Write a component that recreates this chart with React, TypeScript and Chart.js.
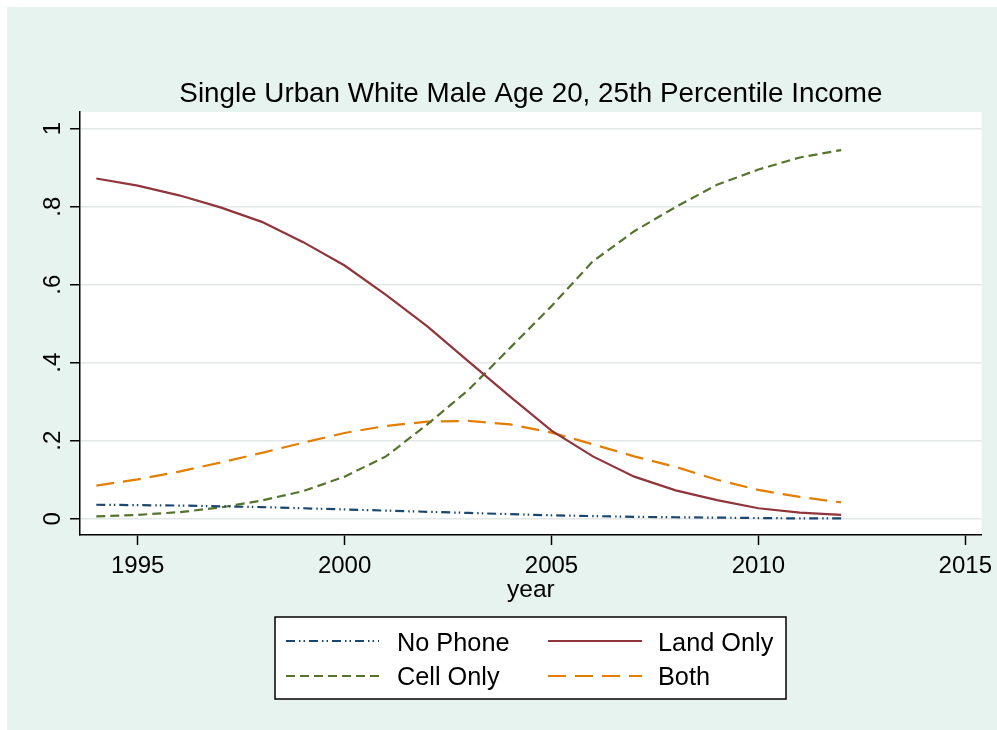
import { useEffect, useRef } from "react";
import { Chart, registerables } from "chart.js";

Chart.register(...registerables);

// ---- data ----
const years = [1994, 1995, 1996, 1997, 1998, 1999, 2000, 2001, 2002, 2003, 2004, 2005, 2006, 2007, 2008, 2009, 2010, 2011, 2012];
const noPhone = [0.036, 0.035, 0.034, 0.032, 0.030, 0.027, 0.024, 0.021, 0.018, 0.015, 0.012, 0.009, 0.007, 0.005, 0.004, 0.003, 0.002, 0.001, 0.001];
const landOnly = [0.872, 0.854, 0.829, 0.798, 0.761, 0.709, 0.649, 0.574, 0.493, 0.403, 0.313, 0.226, 0.160, 0.108, 0.073, 0.048, 0.027, 0.016, 0.010];
const cellOnly = [0.006, 0.010, 0.017, 0.029, 0.047, 0.071, 0.108, 0.160, 0.242, 0.331, 0.438, 0.545, 0.660, 0.737, 0.799, 0.856, 0.895, 0.926, 0.945];
const both = [0.085, 0.101, 0.121, 0.144, 0.169, 0.195, 0.220, 0.238, 0.249, 0.251, 0.242, 0.221, 0.191, 0.160, 0.133, 0.100, 0.074, 0.056, 0.042];

const seriesNames = ["No Phone", "Land Only", "Cell Only", "Both"];
const yTickValues = [0, 0.2, 0.4, 0.6, 0.8, 1];
const yTickLabels = ["0", ".2", ".4", ".6", ".8", "1"];
const xTickValues = [1995, 2000, 2005, 2010, 2015];
const xTickLabels = ["1995", "2000", "2005", "2010", "2015"];
const titleText = "Single Urban White Male Age 20, 25th Percentile Income";
const xAxisTitle = "year";

// ---- styling ----
const W = 990;
const H = 723;
const FONT = '"Liberation Sans", Arial, Helvetica, sans-serif';
const REGION_BG = "#e6f3ef";
const GRID = "#e4e7e7";
const NAVY = "#1a476f";
const MAROON = "#90353b";
const GREEN = "#55752f";
const ORANGE = "#e37e00";

const seriesStyles = [
  { color: NAVY, dash: [9, 4, 1.5, 3, 1.5, 4] },
  { color: MAROON, dash: [] as number[] },
  { color: GREEN, dash: [9, 5] },
  { color: ORANGE, dash: [18, 9] },
];
const seriesValues = [noPhone, landOnly, cellOnly, both];

const toPoints = (vals: number[]) => years.map((yr, i) => ({ x: yr, y: vals[i] }));

const backgroundPlugin = {
  id: "regionBackground",
  beforeDraw(chart: any) {
    const { ctx, chartArea } = chart;
    ctx.save();
    ctx.fillStyle = REGION_BG;
    ctx.fillRect(0, 0, chart.width, chart.height);
    ctx.fillStyle = "#ffffff";
    ctx.fillRect(chartArea.left, chartArea.top, chartArea.right - chartArea.left, chartArea.bottom - chartArea.top);
    ctx.restore();
  },
};

const annotationsPlugin = {
  id: "stataText",
  afterDraw(chart: any) {
    const { ctx, chartArea, scales } = chart;
    const cx = (chartArea.left + chartArea.right) / 2;
    ctx.save();
    ctx.fillStyle = "#000";

    // title
    ctx.font = `27.8px ${FONT}`;
    ctx.textAlign = "center";
    ctx.textBaseline = "alphabetic";
    ctx.fillText(titleText, cx, 95);

    // x tick labels
    ctx.font = `24px ${FONT}`;
    xTickValues.forEach((v, i) => {
      ctx.fillText(xTickLabels[i], scales.x.getPixelForValue(v), 566);
    });

    // x axis title
    ctx.font = `24.5px ${FONT}`;
    ctx.fillText(xAxisTitle, cx, 590);

    // y tick labels, rotated to read bottom-to-top
    ctx.font = `24px ${FONT}`;
    yTickValues.forEach((v, i) => {
      const py = scales.y.getPixelForValue(v);
      ctx.save();
      ctx.translate(53, py);
      ctx.rotate(-Math.PI / 2);
      ctx.textAlign = "center";
      ctx.textBaseline = "alphabetic";
      ctx.fillText(yTickLabels[i], 0, 0);
      ctx.restore();
    });

    // legend box
    const bx = 268, by = 610, bw = 511, bh = 82;
    ctx.fillStyle = "#ffffff";
    ctx.fillRect(bx, by, bw, bh);
    ctx.strokeStyle = "#000";
    ctx.lineWidth = 1.5;
    ctx.strokeRect(bx, by, bw, bh);

    const cols = [
      { lx0: 279, lx1: 372, tx: 390 },
      { lx0: 541, lx1: 635, tx: 651 },
    ];
    const rows = [
      { ly: 634, ty: 644 },
      { ly: 669, ty: 678 },
    ];
    ctx.font = `25.3px ${FONT}`;
    ctx.textAlign = "left";
    seriesNames.forEach((name, i) => {
      const col = cols[i % 2];
      const row = rows[Math.floor(i / 2)];
      const st = seriesStyles[i];
      ctx.save();
      ctx.strokeStyle = st.color;
      ctx.lineWidth = 2.2;
      ctx.setLineDash(st.dash);
      ctx.beginPath();
      ctx.moveTo(col.lx0, row.ly);
      ctx.lineTo(col.lx1, row.ly);
      ctx.stroke();
      ctx.restore();
      ctx.fillStyle = "#000";
      ctx.fillText(name, col.tx, row.ty);
    });
    ctx.restore();
  },
};

export default function App() {
  const canvasRef = useRef<HTMLCanvasElement | null>(null);

  useEffect(() => {
    if (!canvasRef.current) return;
    const chart = new Chart(canvasRef.current, {
      type: "line",
      data: {
        datasets: seriesNames.map((name, i) => ({
          label: name,
          data: toPoints(seriesValues[i]),
          borderColor: seriesStyles[i].color,
          borderDash: seriesStyles[i].dash,
          borderWidth: 2.2,
          pointRadius: 0,
          tension: 0,
          fill: false,
        })),
      },
      options: {
        animation: false,
        responsive: false,
        events: [],
        layout: { padding: { top: 105, right: 15.3, left: 0, bottom: 0 } },
        plugins: {
          legend: { display: false },
          title: { display: false },
          tooltip: { enabled: false },
        },
        scales: {
          x: {
            type: "linear",
            min: 1993.606,
            max: 2015.396,
            afterBuildTicks: (s: any) => {
              s.ticks = xTickValues.map((v) => ({ value: v }));
            },
            afterFit: (s: any) => {
              s.height = H - 528;
            },
            ticks: { display: false },
            grid: {
              drawOnChartArea: false,
              drawTicks: true,
              tickLength: 10,
              tickColor: "#000",
              tickWidth: 1.5,
            },
            border: { color: "#000", width: 1.5 },
          },
          y: {
            type: "linear",
            min: -0.0415,
            max: 1.0425,
            afterBuildTicks: (s: any) => {
              s.ticks = yTickValues.map((v) => ({ value: v }));
            },
            afterFit: (s: any) => {
              s.width = 73;
            },
            ticks: { display: false },
            grid: {
              color: GRID,
              lineWidth: 1.5,
              drawTicks: true,
              tickLength: 10,
              tickColor: "#000",
              tickWidth: 1.5,
            },
            border: { color: "#000", width: 1.5 },
          },
        },
      },
      plugins: [backgroundPlugin, annotationsPlugin],
    } as any);
    return () => chart.destroy();
  }, []);

  return (
    <div style={{ position: "absolute", left: 7, top: 7, width: W, height: H }}>
      <canvas ref={canvasRef} width={W} height={H} style={{ display: "block", width: W, height: H }} />
    </div>
  );
}
